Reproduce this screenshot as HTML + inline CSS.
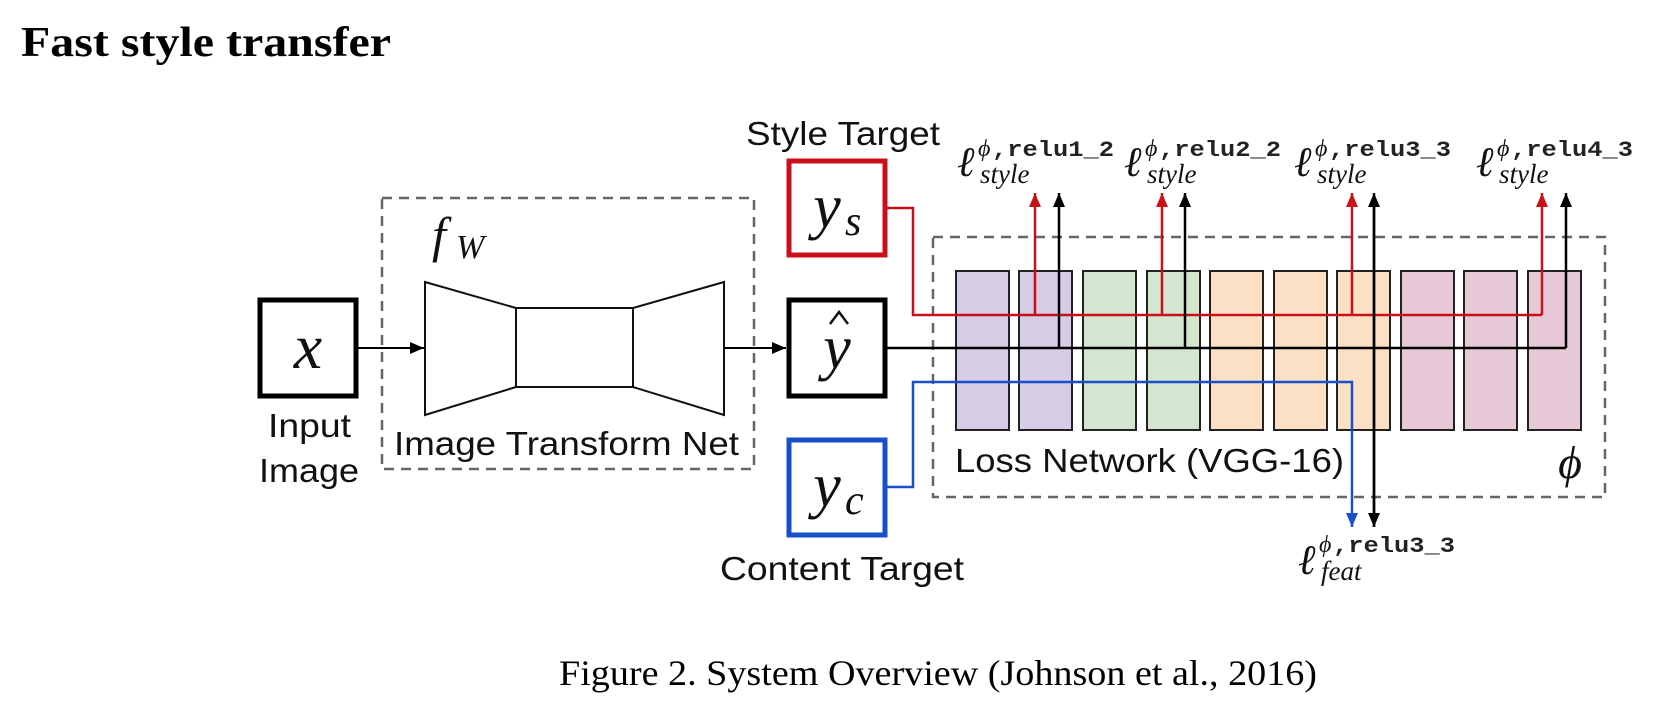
<!DOCTYPE html>
<html><head><meta charset="utf-8"><style>
html,body{margin:0;padding:0;background:#fff;width:1670px;height:706px;overflow:hidden}
svg{display:block}
.s{font-family:"Liberation Sans",sans-serif;fill:#111}
.m{font-family:"Liberation Serif",serif;font-style:italic;fill:#111}
.t{font-family:"Liberation Mono",monospace;font-weight:bold;fill:#222}
</style></head><body>
<svg width="1670" height="706" viewBox="0 0 1670 706" xmlns="http://www.w3.org/2000/svg">
<defs>
<marker id="a2" markerWidth="16" markerHeight="12" refX="14" refY="6" orient="auto" markerUnits="userSpaceOnUse"><path d="M0,0 L14,6 L0,12 z" fill="#000"/></marker>
<marker id="r2" markerWidth="16" markerHeight="12" refX="14" refY="6" orient="auto" markerUnits="userSpaceOnUse"><path d="M0,0 L14,6 L0,12 z" fill="#c8101a"/></marker>
<marker id="b2" markerWidth="16" markerHeight="12" refX="14" refY="6" orient="auto" markerUnits="userSpaceOnUse"><path d="M0,0 L14,6 L0,12 z" fill="#1a4fcc"/></marker>
</defs>

<text x="21" y="56" font-family="Liberation Serif,serif" font-weight="bold" font-size="42" fill="#000" textLength="370" lengthAdjust="spacingAndGlyphs">Fast style transfer</text>

<!-- fW dashed box -->
<rect x="382" y="198" width="372" height="271" fill="none" stroke="#666" stroke-width="2.5" stroke-dasharray="10,7"/>
<text class="m" x="432" y="252" font-size="50">f</text>
<text class="m" x="456" y="258" font-size="34">W</text>
<!-- transform net -->
<path d="M425,282 L516,308 L516,387 L425,415 Z" fill="#fff" stroke="#111" stroke-width="2"/>
<rect x="516" y="308" width="117" height="79" fill="#fff" stroke="#111" stroke-width="2"/>
<path d="M724,282 L633,308 L633,387 L724,415 Z" fill="#fff" stroke="#111" stroke-width="2"/>
<text class="s" x="394" y="455" font-size="33" textLength="345" lengthAdjust="spacingAndGlyphs">Image Transform Net</text>

<!-- x box -->
<rect x="260" y="300" width="96" height="96" fill="#fff" stroke="#000" stroke-width="5"/>
<text class="m" x="308" y="368" font-size="64" text-anchor="middle">x</text>
<text class="s" x="268" y="437" font-size="33" textLength="83" lengthAdjust="spacingAndGlyphs">Input</text>
<text class="s" x="259" y="482" font-size="33" textLength="100" lengthAdjust="spacingAndGlyphs">Image</text>
<line x1="358" y1="348" x2="424" y2="348" stroke="#000" stroke-width="2" marker-end="url(#a2)"/>
<line x1="724" y1="348" x2="786" y2="348" stroke="#000" stroke-width="2" marker-end="url(#a2)"/>

<!-- loss box -->
<rect x="933" y="237" width="672" height="260" fill="none" stroke="#666" stroke-width="2.5" stroke-dasharray="10,7"/>
<g stroke="#222" stroke-width="2">
<rect x="956" y="271" width="53" height="159" fill="#d6cce6"/>
<rect x="1019" y="271" width="53" height="159" fill="#d6cce6"/>
<rect x="1083" y="271" width="53" height="159" fill="#d4e6cf"/>
<rect x="1147" y="271" width="53" height="159" fill="#d4e6cf"/>
<rect x="1210" y="271" width="53" height="159" fill="#fce0c6"/>
<rect x="1274" y="271" width="53" height="159" fill="#fce0c6"/>
<rect x="1337" y="271" width="53" height="159" fill="#fce0c6"/>
<rect x="1401" y="271" width="53" height="159" fill="#e6c8d6"/>
<rect x="1464" y="271" width="53" height="159" fill="#e6c8d6"/>
<rect x="1528" y="271" width="53" height="159" fill="#e6c8d6"/>
</g>
<text class="s" x="955" y="472" font-size="33" textLength="389" lengthAdjust="spacingAndGlyphs">Loss Network (VGG-16)</text>
<text class="m" x="1570" y="478" font-size="46" text-anchor="middle">ϕ</text>

<!-- red lines -->
<g fill="none" stroke="#c8101a" stroke-width="2.5">
<polyline points="887,208 913,208 913,315 1542,315"/>
<line x1="1035" y1="315" x2="1035" y2="193" marker-end="url(#r2)"/>
<line x1="1162" y1="315" x2="1162" y2="193" marker-end="url(#r2)"/>
<line x1="1352" y1="315" x2="1352" y2="193" marker-end="url(#r2)"/>
<line x1="1542" y1="315" x2="1542" y2="193" marker-end="url(#r2)"/>
</g>
<!-- black lines -->
<g fill="none" stroke="#000" stroke-width="2.5">
<polyline points="887,348 1566,348"/>
<line x1="1059" y1="348" x2="1059" y2="193" marker-end="url(#a2)"/>
<line x1="1185" y1="348" x2="1185" y2="193" marker-end="url(#a2)"/>
<line x1="1374" y1="527" x2="1374" y2="193" marker-end="url(#a2)"/>
<line x1="1374" y1="200" x2="1374" y2="527" marker-end="url(#a2)"/>
<line x1="1566" y1="348" x2="1566" y2="193" marker-end="url(#a2)"/>
</g>
<!-- blue -->
<polyline points="887,487 913,487 913,382 1352,382 1352,527" fill="none" stroke="#1a4fcc" stroke-width="2.5" marker-end="url(#b2)"/>

<!-- target boxes -->
<rect x="789" y="161" width="96" height="94" fill="#fff" stroke="#c8101a" stroke-width="5"/>
<text class="m" x="827" y="227" font-size="62" text-anchor="middle">y</text><text class="m" x="845" y="235" font-size="42">s</text>
<rect x="789" y="300" width="96" height="96" fill="#fff" stroke="#000" stroke-width="5"/>
<text class="m" x="837" y="368" font-size="62" text-anchor="middle">y</text>
<path d="M830,324 L839,312 L848,324" fill="none" stroke="#111" stroke-width="2.5"/>
<rect x="789" y="440" width="96" height="95" fill="#fff" stroke="#1a4fcc" stroke-width="5"/>
<text class="m" x="827" y="506" font-size="62" text-anchor="middle">y</text><text class="m" x="845" y="514" font-size="42">c</text>
<text class="s" x="746" y="145" font-size="33" textLength="194" lengthAdjust="spacingAndGlyphs">Style Target</text>
<text class="s" x="720" y="580" font-size="33" textLength="244" lengthAdjust="spacingAndGlyphs">Content Target</text>

<!-- loss labels -->
<g>
<text class="m" x="957" y="176" font-size="42">ℓ</text><text class="m" x="978" y="156" font-size="24">ϕ</text><text class="t" x="992" y="156" font-size="22" textLength="122" lengthAdjust="spacingAndGlyphs">,relu1_2</text><text class="m" x="980" y="183" font-size="27">style</text>
<text class="m" x="1124" y="176" font-size="42">ℓ</text><text class="m" x="1145" y="156" font-size="24">ϕ</text><text class="t" x="1159" y="156" font-size="22" textLength="122" lengthAdjust="spacingAndGlyphs">,relu2_2</text><text class="m" x="1147" y="183" font-size="27">style</text>
<text class="m" x="1294" y="176" font-size="42">ℓ</text><text class="m" x="1315" y="156" font-size="24">ϕ</text><text class="t" x="1329" y="156" font-size="22" textLength="122" lengthAdjust="spacingAndGlyphs">,relu3_3</text><text class="m" x="1317" y="183" font-size="27">style</text>
<text class="m" x="1476" y="176" font-size="42">ℓ</text><text class="m" x="1497" y="156" font-size="24">ϕ</text><text class="t" x="1511" y="156" font-size="22" textLength="122" lengthAdjust="spacingAndGlyphs">,relu4_3</text><text class="m" x="1499" y="183" font-size="27">style</text>
<text class="m" x="1298" y="574" font-size="42">ℓ</text><text class="m" x="1319" y="552" font-size="24">ϕ</text><text class="t" x="1333" y="552" font-size="22" textLength="122" lengthAdjust="spacingAndGlyphs">,relu3_3</text><text class="m" x="1321" y="580" font-size="27">feat</text>
</g>

<text x="559" y="685" font-family="Liberation Serif,serif" font-size="36" fill="#000" textLength="758" lengthAdjust="spacingAndGlyphs">Figure 2. System Overview (Johnson et al., 2016)</text>
</svg>
</body></html>
